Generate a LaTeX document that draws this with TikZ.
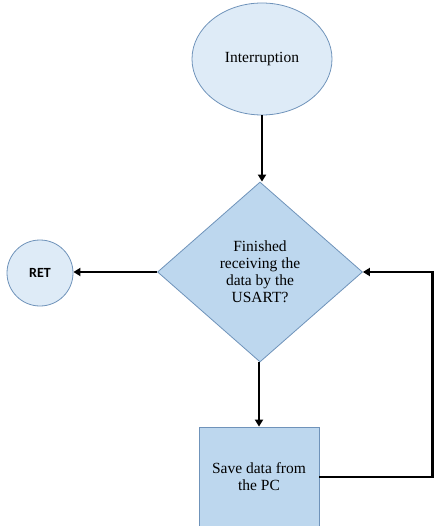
\documentclass[tikz,border=0pt]{standalone}
\usepackage{fontspec}
\setmainfont{Liberation Serif}
\newfontfamily\retfont{Carlito}
\usetikzlibrary{shapes.geometric,arrows.meta}
\definecolor{lightfill}{HTML}{DEEBF7}
\definecolor{midfill}{HTML}{BDD7EE}
\definecolor{edgeblue}{HTML}{6F93BA}
\tikzset{
  arr/.style={line width=2.2pt, -{Triangle[length=7pt,width=8pt]}},
  shp/.style={draw=edgeblue, line width=0.8pt, inner sep=2pt, align=center,
    font=\fontsize{15.5}{17}\selectfont}
}
\begin{document}
\begin{tikzpicture}[x=1pt,y=-1pt]
\useasboundingbox (0,0) rectangle (433,526);
\node[shp, ellipse, fill=lightfill, minimum width=140pt, minimum height=112pt] (int) at (262,59) {Interruption};
\node[shp, diamond, fill=midfill, minimum width=205pt, minimum height=180pt] (dia) at (260,272) {Finished\\receiving the\\data by the\\USART?};
\node[shp, circle, fill=lightfill, minimum size=66pt, font=\retfont\bfseries\fontsize{14}{15}\selectfont] (ret) at (40,273) {RET};
\node[shp, rectangle, fill=midfill, minimum width=120pt, minimum height=100pt] (save) at (259,477) {Save data from\\the PC};
\coordinate (c2) at (432.5,272);
\draw[arr] (int.south) -- (int.south |- dia.north);
\draw[arr] (dia.west) -- (dia.west -| ret.east);
\draw[arr] (dia.south -| save.north) -- (save.north);
\draw[arr] (save.east) -| (c2) -- (dia.east);
\end{tikzpicture}
\end{document}
